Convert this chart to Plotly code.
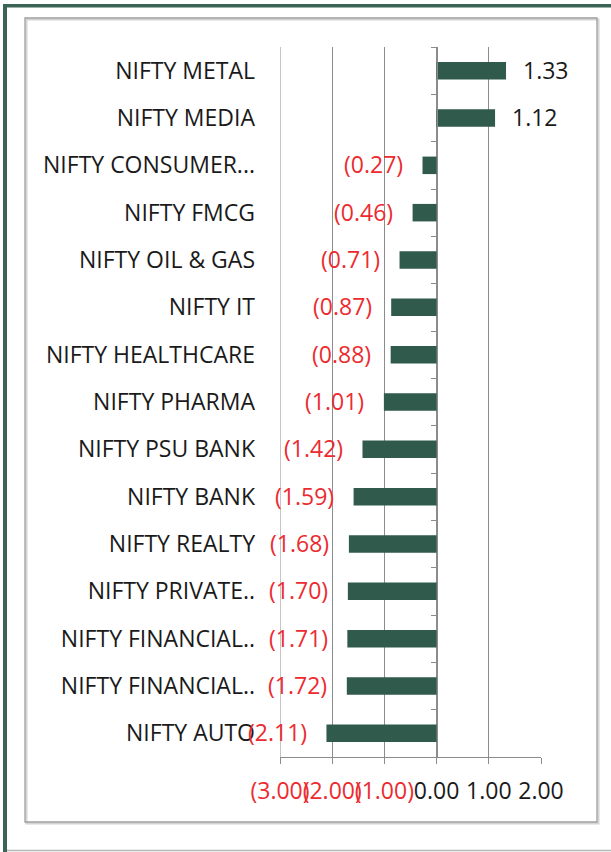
import plotly.graph_objects as go

# ---- data ----
categories = [
    "NIFTY METAL", "NIFTY MEDIA", "NIFTY CONSUMER...", "NIFTY FMCG",
    "NIFTY OIL & GAS", "NIFTY IT", "NIFTY HEALTHCARE", "NIFTY PHARMA",
    "NIFTY PSU BANK", "NIFTY BANK", "NIFTY REALTY", "NIFTY PRIVATE..",
    "NIFTY FINANCIAL..", "NIFTY FINANCIAL..", "NIFTY AUTO",
]
values = [1.33, 1.12, -0.27, -0.46, -0.71, -0.87, -0.88, -1.01,
          -1.42, -1.59, -1.68, -1.70, -1.71, -1.72, -2.11]
x_ticks = [-3, -2, -1, 0, 1, 2]

# ---- styling ----
W, H = 611, 852
L, R, T, B = 280, 541, 47, 757
BAR = "#2F5A4C"
FRAME = "#3A6455"
RED = "#EC2B30"
TXT = "#1A1A1A"
GRID = "#8C8C8C"
FONT = "Open Sans"
FS = 23

def fmt(v):
    return f"{v:.2f}" if v >= 0 else f"({abs(v):.2f})"

def px_x(p):
    return (p - L) / (R - L)

def px_y(p):
    return (B - p) / (B - T)

n = len(categories)
idx = list(range(n))

fig = go.Figure()
fig.add_trace(go.Bar(
    x=values, y=idx, orientation="h",
    marker=dict(color=BAR, line=dict(width=0)),
    hoverinfo="skip",
))
# invisible helper trace to drive the zero-axis with boundary tick marks
fig.add_trace(go.Scatter(
    x=values, y=idx, yaxis="y2", mode="markers",
    marker=dict(opacity=0), hoverinfo="skip", showlegend=False,
))

tick_text = []
for t in x_ticks:
    col = RED if t < 0 else TXT
    tick_text.append(f'<span style="color:{col}">{fmt(t)}</span>')

annotations = []
for i, v in enumerate(values):
    annotations.append(dict(
        x=v, y=i, xref="x", yref="y", text=fmt(v), showarrow=False,
        xanchor="center", yanchor="middle",
        xshift=(40 if v >= 0 else -49), yshift=1,
        font=dict(family=FONT, size=FS, color=(TXT if v >= 0 else RED)),
    ))

shapes = [
    # outer green frame (left and top)
    dict(type="rect", xref="paper", yref="paper",
         x0=px_x(3), x1=px_x(7), y0=px_y(4), y1=px_y(860),
         fillcolor=FRAME, line=dict(width=0), layer="below"),
    dict(type="rect", xref="paper", yref="paper",
         x0=px_x(3), x1=px_x(615), y0=px_y(4), y1=px_y(7.5),
         fillcolor=FRAME, line=dict(width=0), layer="below"),
    # inner chart box shadow + border
    dict(type="rect", xref="paper", yref="paper",
         x0=px_x(26.5), x1=px_x(598.5), y0=px_y(19.5), y1=px_y(823.5),
         line=dict(color="#D4D4D4", width=2), layer="below"),
    dict(type="rect", xref="paper", yref="paper",
         x0=px_x(25), x1=px_x(597), y0=px_y(18), y1=px_y(822),
         line=dict(color="#9E9E9E", width=1.3), layer="below"),
    # bottom grey line
    dict(type="line", xref="paper", yref="paper",
         x0=px_x(7), x1=px_x(615), y0=px_y(850.5), y1=px_y(850.5),
         line=dict(color="#B4B8B6", width=1.5), layer="below"),
    # gridline at the lowest x tick (plotly hides the edge gridline)
    dict(type="line", xref="x", yref="paper",
         x0=x_ticks[0], x1=x_ticks[0], y0=0, y1=1,
         line=dict(color=GRID, width=1), layer="below"),
]

fig.update_layout(
    width=W, height=H,
    margin=dict(l=L, r=W - R, t=T, b=H - B, pad=0),
    paper_bgcolor="white", plot_bgcolor="white",
    showlegend=False, bargap=0.63,
    font=dict(family=FONT, size=FS, color=TXT),
    xaxis=dict(
        range=[-3, 2], tickmode="array", tickvals=x_ticks, ticktext=tick_text,
        tickangle=0, showgrid=True, gridcolor=GRID, gridwidth=1,
        zeroline=False, showline=True, linecolor=GRID, linewidth=1,
        ticks="outside", ticklen=6, tickcolor=GRID, tickwidth=1,
        tickfont=dict(family=FONT, size=FS, color=TXT),
        ticklabelstandoff=7, fixedrange=True,
    ),
    yaxis=dict(
        range=[n - 0.5, -0.5], tickmode="array", tickvals=idx,
        ticktext=categories, showgrid=False, zeroline=False, showline=False,
        ticks="", ticklabelstandoff=24,
        tickfont=dict(family=FONT, size=FS, color=TXT), fixedrange=True,
    ),
    yaxis2=dict(
        overlaying="y", anchor="free", position=0.6, side="left",
        range=[n - 0.5, -0.5], tickmode="array",
        tickvals=[i - 0.5 for i in range(n + 1)],
        showticklabels=False, showgrid=False, zeroline=False,
        showline=True, linecolor=GRID, linewidth=1,
        ticks="outside", ticklen=6, tickcolor=GRID, tickwidth=1,
        fixedrange=True,
    ),
    annotations=annotations,
    shapes=shapes,
)

fig.write_html("out.html", config={"displayModeBar": False})
